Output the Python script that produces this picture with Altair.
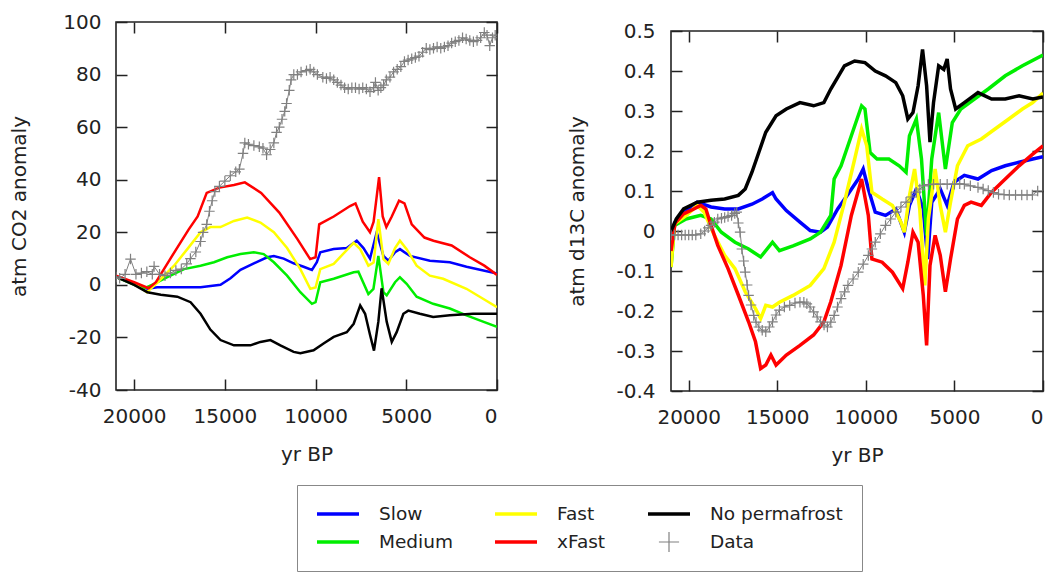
import altair as alt
import pandas as pd

# ---------------- legend / colours ----------------
LEGEND_ORDER = ["Slow", "Medium", "Fast", "xFast", "No permafrost", "Data"]
LEGEND_COLORS = ["#0000ff", "#00ee00", "#ffff00", "#ff0000", "#000000", "#808080"]

X_TICKS = [20000, 15000, 10000, 5000, 0]
CO2_TICKS = [-40, -20, 0, 20, 40, 60, 80, 100]
D13_TICKS = [-0.4, -0.3, -0.2, -0.1, 0, 0.1, 0.2, 0.3, 0.4, 0.5]

# ---------------- left panel: atm CO2 anomaly ----------------
CO2_SLOW_YR = [21000, 20000, 19270, 18720, 17620, 16340, 15240, 14690, 14140, 13400, 12670, 12300, 11760, 11210,
               10660, 10200, 9930, 9740, 9000, 8280, 7730, 7360, 7000, 6630, 6260, 5990, 5620, 5350, 4800, 3700,
               2600, 1680, 0]
CO2_SLOW = [3, 0.4, -1.5, -0.9, -0.9, -0.9, 0, 2.5, 5.7, 8.2, 10.5, 11, 10, 8.2, 6.9, 5.7, 8.6, 12.4, 13.6, 14,
            16.8, 14, 10, 20, 11, 9.2, 12.4, 13.6, 11, 9.2, 8.6, 6.9, 4.3]

CO2_MEDIUM_YR = [21000, 20000, 19450, 18900, 18170, 17250, 16340, 15600, 14870, 14140, 13400, 12860, 12300, 11570,
                 10840, 10200, 10000, 9740, 9000, 7900, 7640, 7090, 6810, 6540, 6260, 6080, 5620, 5350, 4980, 4430,
                 3520, 2600, 1680, 770, 0]
CO2_MEDIUM = [3, 0, -1.3, 0.4, 2.9, 6, 7.3, 8.6, 10.5, 11.7, 12.4, 11.7, 8.6, 3.5, -2.8, -7.2, -6.6, 1, 2.3, 4.8,
              5, -3.5, -1.5, 11, -2.8, -4, 1, 2.9, 0.4, -4.5, -7.2, -9, -11.6, -14, -16]

CO2_FAST_YR = [21000, 20000, 19300, 18700, 17800, 17070, 16340, 15800, 15240, 14500, 13770, 13040, 12300, 11570,
               10840, 10290, 10000, 9740, 9000, 7900, 7540, 7090, 6800, 6540, 6260, 5990, 5620, 5350, 4980, 4430,
               3700, 2970, 1685, 770, 0]
CO2_FAST = [3, 0.5, -2.8, 1, 7.3, 13.6, 20, 22, 22, 24.3, 25.6, 23.7, 20, 14, 6, -1.5, -1, 6, 8, 16,
            13.6, 7.3, 8.5, 25, 9.8, 8, 14, 16.8, 13.6, 7.3, 3.5, 2.3, -1.5, -5.3, -8.5]

CO2_XFAST_YR = [21000, 20000, 19200, 18800, 18000, 17000, 16500, 16000, 15300, 14500, 13900, 13000, 12000, 11000,
                10300, 10000, 9800, 9000, 8100, 7800, 7400, 7000, 6800, 6500, 6300, 6100, 5800, 5400, 5100, 4700,
                4000, 3500, 2500, 1500, 700, 0]
CO2_XFAST = [3.5, 1, -1.3, 1, 10, 21, 26, 35, 37, 38, 39, 35, 27.5, 17.4, 9.8, 10.5, 23, 26, 30, 31,
             24, 20, 24, 41, 26, 22, 26, 32, 31, 23, 18, 16.8, 15, 10.5, 7.3, 3.8]

CO2_NOPF_YR = [21000, 20000, 19270, 18530, 17620, 16890, 16340, 15800, 15240, 14500, 13590, 13040, 12490, 11940,
               11210, 10840, 10110, 9560, 9000, 8280, 7900, 7540, 7270, 7000, 6780, 6540, 6360, 6080, 5800, 5530,
               5160, 4890, 4250, 3520, 2600, 1320, 0]
CO2_NOPF = [3, 0, -2.8, -3.8, -4.5, -6.6, -11, -17, -21, -23, -23, -21.7, -21, -23, -25.5, -26, -24.9, -22.3,
            -19.8, -18, -14.8, -7.8, -11, -19, -25, -14, -1.3, -14, -21.7, -18, -11, -9.8, -11, -12.2, -11.6,
            -11, -11]

CO2_DATA_YR = [21000, 20800, 20500, 20200, 19900, 19600, 19300, 19000, 18900, 18600, 18300, 18000, 17700, 17400,
               17100, 16900, 16600, 16340, 16200, 16000, 15850, 15700, 15550, 15300, 15000, 14700, 14400, 14200,
               14000, 13900, 13700, 13400, 13100, 12900, 12700, 12500, 12300, 12150, 12000, 11850, 11700, 11600,
               11450, 11350, 11200, 11000, 10800, 10500, 10300, 10100, 9900, 9600, 9400, 9200, 9000, 8800, 8600,
               8400, 8200, 8000, 7800, 7600, 7400, 7200, 7000, 6800, 6700, 6550, 6400, 6250, 6100, 5900, 5700,
               5500, 5300, 5100, 4900, 4700, 4500, 4300, 4100, 3900, 3700, 3500, 3300, 3100, 2900, 2700, 2500,
               2300, 2100, 1900, 1700, 1500, 1300, 1100, 900, 700, 550, 400, 250, 100]
CO2_DATA = [3, 2.5, 4, 9.8, 4, 4.5, 5, 4, 7, 4, 3.5, 4.5, 5.5, 6, 8, 10, 12.5, 16.5, 20, 23, 28, 32, 35.5,
            37.5, 39.5, 41.5, 43, 44, 50, 54, 53.5, 53, 52.5, 52, 49.5, 51.5, 54, 58, 60, 63, 66, 69, 74, 78,
            80, 80, 81, 81.5, 82, 81, 80, 79, 78.5, 79, 78, 77, 76, 75, 74.5, 75, 75, 74.5, 75, 74.5, 73.5, 75,
            77, 74, 75, 76, 78, 79, 81, 82, 83, 85, 85.5, 86, 86.5, 87, 88.5, 90, 89.5, 90, 90.5, 90, 90.5, 91,
            92, 92.5, 93, 94, 93.5, 93, 92.5, 93, 94, 96, 95, 91, 94, 95]

# ---------------- right panel: atm d13C anomaly ----------------
D13_SLOW_YR = [21000, 20800, 20290, 19520, 18740, 17970, 17200, 16430, 15850, 15270, 15070, 14490, 13720, 13140,
               12560, 12170, 11590, 11010, 10430, 10150, 9860, 9470, 8890, 8310, 7830, 7540, 7150, 6760, 6510,
               6280, 5800, 5410, 5020, 4440, 3670, 2900, 2130, 1350, 580, 0]
D13_SLOW = [-0.05, 0.02, 0.047, 0.072, 0.06, 0.055, 0.055, 0.067, 0.08, 0.096, 0.08, 0.051, 0.022, 0.001,
            -0.003, 0.01, 0.055, 0.092, 0.13, 0.155, 0.105, 0.047, 0.039, 0.055, -0.003, 0.064, 0.105, 0.055,
            -0.07, 0.072, 0.105, 0.064, 0.122, 0.139, 0.13, 0.151, 0.163, 0.172, 0.18, 0.186]

D13_MEDIUM_YR = [21000, 20800, 20150, 19320, 18740, 18160, 17390, 16620, 15940, 15270, 14880, 14110, 13140, 12560,
                 11980, 11790, 11400, 10820, 10240, 10050, 9760, 9370, 8700, 8120, 7730, 7540, 7150, 6860, 6570,
                 6280, 5890, 5510, 5120, 4640, 3870, 3090, 2130, 1160, 0]
D13_MEDIUM = [-0.09, 0.014, 0.03, 0.039, 0.03, -0.003, -0.028, -0.045, -0.065, -0.028, -0.049, -0.037, -0.02,
              -0.003, 0.039, 0.13, 0.163, 0.238, 0.313, 0.305, 0.196, 0.18, 0.18, 0.163, 0.147, 0.238, 0.28,
              0.18, -0.011, 0.18, 0.296, 0.155, 0.271, 0.305, 0.33, 0.355, 0.388, 0.413, 0.44]

D13_FAST_YR = [21000, 20800, 20130, 19520, 19130, 18550, 17970, 17390, 16810, 16230, 15940, 15650, 15270, 14880,
               14110, 13140, 12370, 11790, 11210, 10630, 10240, 9950, 9660, 9080, 8500, 8020, 7830, 7540, 7250,
               6960, 6670, 6470, 6090, 5800, 5510, 5220, 4830, 4250, 3480, 2710, 1930, 1160, 580, 0]
D13_FAST = [-0.09, 0.018, 0.039, 0.064, 0.047, -0.011, -0.061, -0.094, -0.152, -0.194, -0.219, -0.186, -0.19,
            -0.178, -0.161, -0.136, -0.094, -0.028, 0.072, 0.18, 0.255, 0.213, 0.097, 0.08, 0.064, 0.022,
            -0.003, 0.088, 0.155, 0.055, -0.136, 0.03, 0.155, 0.064, -0.003, 0.072, 0.163, 0.213, 0.23, 0.255,
            0.28, 0.305, 0.321, 0.345]

D13_XFAST_YR = [21000, 20770, 20290, 19710, 19320, 19030, 18740, 18360, 17780, 17200, 16620, 16230, 15940, 15650,
                15360, 15070, 14490, 13720, 12950, 12370, 11980, 11400, 10820, 10240, 9860, 9660, 9080, 8500,
                7920, 7630, 7340, 7050, 6760, 6570, 6380, 6090, 5800, 5510, 5220, 4830, 4440, 4060, 3480, 2900,
                2130, 1350, 580, 0]
D13_XFAST = [-0.05, 0.02, 0.043, 0.055, 0.064, 0.055, 0.014, -0.036, -0.094, -0.16, -0.227, -0.277, -0.344,
             -0.335, -0.31, -0.335, -0.31, -0.286, -0.26, -0.227, -0.177, -0.086, 0.039, 0.13, 0.039, -0.07,
             -0.078, -0.103, -0.144, -0.078, -0.003, -0.028, -0.16, -0.286, -0.086, -0.011, -0.061, -0.152,
             -0.07, 0.03, 0.064, 0.072, 0.064, 0.097, 0.13, 0.163, 0.192, 0.213]

D13_NOPF_YR = [21000, 20700, 20290, 19520, 18740, 17970, 17200, 16810, 16430, 16040, 15650, 15070, 14490, 13720,
               12950, 12370, 11980, 11590, 11210, 10630, 10050, 9470, 8890, 8310, 7920, 7630, 7340, 7050, 6800,
               6570, 6380, 6180, 5890, 5600, 5410, 5220, 4930, 4440, 3670, 2900, 2130, 1350, 580, 0]
D13_NOPF = [0.0, 0.03, 0.055, 0.072, 0.077, 0.08, 0.089, 0.105, 0.147, 0.197, 0.247, 0.288, 0.305, 0.321,
            0.313, 0.321, 0.355, 0.384, 0.413, 0.425, 0.421, 0.4, 0.388, 0.371, 0.338, 0.28, 0.296, 0.363,
            0.454, 0.363, 0.222, 0.321, 0.413, 0.404, 0.43, 0.355, 0.305, 0.321, 0.346, 0.33, 0.33, 0.338,
            0.33, 0.335]

D13_DATA_YR = [21000, 20800, 20600, 20400, 20200, 20000, 19800, 19600, 19320, 19100, 18900, 18740, 18550, 18360,
               18150, 17970, 17780, 17580, 17400, 17290, 17200, 17100, 17000, 16900, 16810, 16700, 16620, 16480,
               16330, 16200, 16040, 15850, 15650, 15450, 15270, 15070, 14880, 14600, 14300, 14000, 13720, 13500,
               13330, 13150, 12950, 12750, 12560, 12360, 12170, 11980, 11790, 11600, 11400, 11200, 11010, 10720,
               10430, 10150, 9860, 9660, 9470, 9180, 8890, 8600, 8310, 8020, 7730, 7440, 7150, 6950, 6760, 6470,
               6180, 5800, 5410, 5000, 4700, 4440, 4100, 3670, 3380, 3090, 2800, 2510, 2200, 1900, 1550, 1200,
               900, 600, 300]
D13_DATA = [-0.01, -0.01, -0.01, -0.01, -0.01, -0.01, -0.01, -0.01, -0.007, 0.0, 0.008, 0.014, 0.022, 0.03,
            0.032, 0.034, 0.036, 0.039, 0.044, 0.047, 0.02, -0.003, -0.045, -0.075, -0.103, -0.135, -0.161,
            -0.185, -0.211, -0.228, -0.24, -0.248, -0.252, -0.24, -0.227, -0.21, -0.198, -0.19, -0.186, -0.18,
            -0.178, -0.178, -0.182, -0.19, -0.202, -0.215, -0.227, -0.235, -0.24, -0.228, -0.211, -0.19, -0.169,
            -0.152, -0.136, -0.12, -0.103, -0.083, -0.061, -0.045, -0.028, -0.007, 0.014, 0.03, 0.047, 0.06,
            0.072, 0.085, 0.097, 0.105, 0.113, 0.116, 0.117, 0.117, 0.117, 0.117, 0.118, 0.117, 0.113, 0.109,
            0.105, 0.101, 0.096, 0.092, 0.091, 0.09, 0.09, 0.09, 0.09, 0.09, 0.1]

CROSS = "M-1,0H1M0,-1V1"
# legend symbols: a thick line made of three thin strokes, and a thin plus for the data
LINE_LEGEND = "M-1,-0.055H1M-1,0H1M-1,0.055H1"
CROSS_LEGEND = "M-0.48,0H0.48M0,-0.48V0.48"
FONT = "DejaVu Sans"
INK = "#222222"


def table(pairs):
    rows = []
    for name, yrs, vals in pairs:
        for yr, v in zip(yrs, vals):
            rows.append({"series": name, "yr": yr, "v": v})
    return pd.DataFrame(rows, columns=["series", "yr", "v"])


def color_enc():
    return alt.Color(
        "series:N",
        scale=alt.Scale(domain=LEGEND_ORDER, range=LEGEND_COLORS),
        legend=alt.Legend(
            title=None, orient="none", legendX=181, legendY=476, columns=3,
            columnPadding=41, rowPadding=8, symbolSize=1764,
            symbolType=alt.ExprRef(expr=f"datum.value === 'Data' ? '{CROSS_LEGEND}' : '{LINE_LEGEND}'"),
            symbolStrokeWidth=1.2, clipHeight=20, labelFont=FONT, labelFontSize=18.5,
            labelColor=INK, labelOffset=19, labelLimit=0, padding=19, strokeColor="#888888",
        ),
    )


def panel(models, data, y_title, y_dom, y_ticks, y_expr, w, h, title_pad, label_pad, sw):
    xs = alt.Scale(domain=[21000, 0], nice=False, zero=False)
    ys = alt.Scale(domain=y_dom, nice=False, zero=False)
    x_bottom = alt.Axis(orient="bottom", values=X_TICKS, labelExpr="toString(datum.value)", offset=-11,
                        tickSize=11, labelPadding=16, title="yr BP", titlePadding=18)
    y_left = alt.Axis(orient="left", values=y_ticks, labelExpr=y_expr, offset=-11, tickSize=11,
                      labelPadding=label_pad, title=y_title, titlePadding=title_pad)
    x_top = alt.Axis(orient="top", values=X_TICKS, labels=False, offset=-11, tickSize=11, title=None)
    y_right = alt.Axis(orient="right", values=y_ticks, labels=False, offset=-11, tickSize=11, title=None)

    lines = alt.Chart(models).mark_line(strokeWidth=sw, clip=True).encode(
        x=alt.X("yr:Q", scale=xs, axis=x_bottom),
        y=alt.Y("v:Q", scale=ys, axis=y_left),
        color=color_enc(),
    )
    dline = alt.Chart(data).mark_line(strokeWidth=1, clip=True).encode(
        x=alt.X("yr:Q", scale=xs, axis=None),
        y=alt.Y("v:Q", scale=ys, axis=None),
        color=color_enc(),
    )
    dpts = alt.Chart(data).mark_point(shape=CROSS, size=110, filled=False, strokeWidth=1.2,
                                      color="#808080", opacity=1, clip=True).encode(
        x=alt.X("yr:Q", scale=xs, axis=x_top),
        y=alt.Y("v:Q", scale=ys, axis=y_right),
    )
    return alt.layer(lines, dline, dpts).resolve_axis(x="independent", y="independent").properties(
        width=w, height=h)


def spacer(h):
    # empty, invisible strip that sets how far below the row top a panel frame starts
    return alt.Chart(pd.DataFrame({"yr": []})).mark_point(opacity=0).encode(
        x=alt.value(0), y=alt.value(0)
    ).properties(width=1, height=h, view=alt.ViewBackground(stroke="transparent"))


co2_models = table([
    ("Slow", CO2_SLOW_YR, CO2_SLOW), ("Medium", CO2_MEDIUM_YR, CO2_MEDIUM),
    ("Fast", CO2_FAST_YR, CO2_FAST), ("xFast", CO2_XFAST_YR, CO2_XFAST),
    ("No permafrost", CO2_NOPF_YR, CO2_NOPF)])
co2_data = table([("Data", CO2_DATA_YR, CO2_DATA)])
d13_models = table([
    ("Slow", D13_SLOW_YR, D13_SLOW), ("Medium", D13_MEDIUM_YR, D13_MEDIUM),
    ("Fast", D13_FAST_YR, D13_FAST), ("xFast", D13_XFAST_YR, D13_XFAST),
    ("No permafrost", D13_NOPF_YR, D13_NOPF)])
d13_data = table([("Data", D13_DATA_YR, D13_DATA)])

left = panel(co2_models, co2_data, "atm CO2 anomaly", [-40, 100], CO2_TICKS, "toString(datum.value)",
             381, 368, 33, 15, 2.5)
right = panel(d13_models, d13_data, "atm d13C anomaly", [-0.4, 0.5], D13_TICKS,
              "toString(round(datum.value*10)/10)", 372, 360, 28, 16, 3.5)

left_col = alt.vconcat(spacer(1), left, spacing=0)
right_col = alt.vconcat(spacer(10), right, spacing=0)

chart = alt.hconcat(left_col, right_col, spacing=68).properties(
    padding={"left": 1, "top": 0, "right": 0, "bottom": 0}
).configure_view(
    stroke=INK, strokeWidth=1.6
).configure_axis(
    labelFont=FONT, labelFontSize=20, labelColor=INK, titleFont=FONT, titleFontSize=20,
    titleFontWeight="normal", titleColor=INK, tickColor=INK, tickWidth=1.5, grid=False, domain=False
)

chart.save("out.html", embed_options={"renderer": "svg", "actions": False})
